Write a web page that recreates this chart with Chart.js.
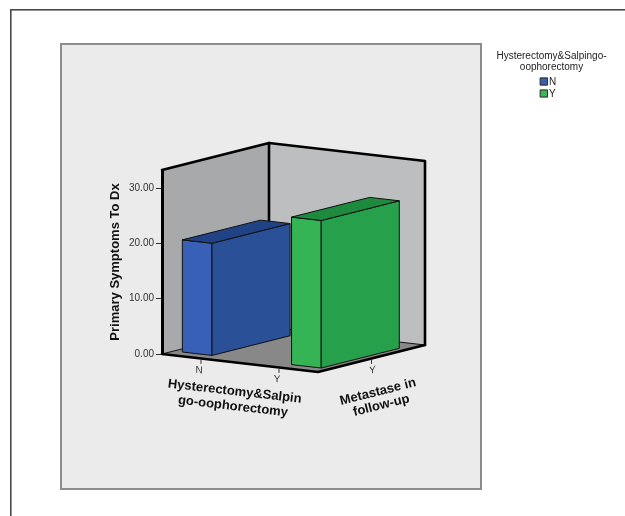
<!DOCTYPE html>
<html>
<head>
<meta charset="utf-8">
<script src="https://cdn.jsdelivr.net/npm/chart.js@4.4.1/dist/chart.umd.min.js"></script>
<style>
html,body{margin:0;padding:0;background:#fff;}
#wrap{width:625px;height:516px;}
</style>
</head>
<body>
<div id="wrap"><canvas id="c" width="625" height="516"></canvas></div>
<script>
// ---------------- data ----------------
const hysterectomyCategories = ['N', 'Y'];
const metastaseCategories = ['Y'];
const seriesLabels = ['N', 'Y'];
const primarySymptomsN = [20.3, null];
const primarySymptomsY = [null, 26.7];
const yTickValues = [0, 10, 20, 30];
const yAxisMax = 33.3;
const yTitle = 'Primary Symptoms To Dx';
const xTitleLines = ['Hysterectomy&Salpin', 'go-oophorectomy'];
const zTitleLines = ['Metastase in', 'follow-up'];
const legendTitleLines = ['Hysterectomy&Salpingo-', 'oophorectomy'];

// ---------------- style ----------------
const FONT = "'Liberation Sans', Arial, sans-serif";
const DEPTH = { dx: 107, dy: -27 };
const FRONT_DY = 18;
const BAR_SPREAD = 1.40;
const DEPTH_FILL = 0.73, DEPTH_SHIFT = -0.025;
const BLUE = { front: '#3760b6', side: '#2a5098', top: '#1f4384', legend: '#3a5fb0' };
const GREEN = { front: '#34b454', side: '#27a04b', top: '#1e8a3e', legend: '#3cb85b' };
const WALL_LEFT = '#a7a9aa', WALL_BACK = '#bcbebf', FLOOR = '#888888';

function proj(chart, a, d, v) {
  const ca = chart.chartArea, ys = chart.scales.y;
  return [ca.left + a * (ca.right - ca.left) + d * DEPTH.dx,
          ys.getPixelForValue(v) + a * FRONT_DY + d * DEPTH.dy];
}
function poly(ctx, pts, fill, stroke, lw) {
  ctx.beginPath();
  pts.forEach((p, i) => i ? ctx.lineTo(p[0], p[1]) : ctx.moveTo(p[0], p[1]));
  ctx.closePath();
  if (fill) { ctx.fillStyle = fill; ctx.fill(); }
  if (stroke) { ctx.strokeStyle = stroke; ctx.lineWidth = lw || 1; ctx.lineJoin = 'round'; ctx.stroke(); }
}
function pline(ctx, pts, color, lw) {
  ctx.beginPath();
  pts.forEach((p, i) => i ? ctx.lineTo(p[0], p[1]) : ctx.moveTo(p[0], p[1]));
  ctx.strokeStyle = color; ctx.lineWidth = lw; ctx.lineJoin = 'round'; ctx.lineCap = 'round';
  ctx.stroke();
}
function textAlong(ctx, lines, x, y, angle, offsets, font, color, shear) {
  ctx.save();
  ctx.translate(x, y);
  if (shear) ctx.transform(Math.cos(angle), Math.sin(angle), 0, 1, 0, 0);
  else ctx.rotate(angle);
  ctx.font = font; ctx.fillStyle = color;
  ctx.textAlign = 'center'; ctx.textBaseline = 'middle';
  lines.forEach((t, i) => ctx.fillText(t, offsets[i][0], offsets[i][1]));
  ctx.restore();
}

const threeD = {
  id: 'threeD',
  beforeDraw(chart) {
    const ctx = chart.ctx;
    const ca = chart.chartArea;
    const W = ca.right - ca.left;
    const P = (a, d, v) => proj(chart, a, d, v);
    const vmax = chart.scales.y.max;
    ctx.save();
    ctx.fillStyle = '#ffffff'; ctx.fillRect(0, 0, chart.width, chart.height);
    // outer frame
    ctx.fillStyle = '#4a4a4a';
    ctx.fillRect(10, 9, 1.6, chart.height - 9);
    ctx.fillRect(10, 9, chart.width - 10, 1.6);
    // panel
    ctx.fillStyle = '#ebebeb'; ctx.fillRect(60, 43, 422, 447);
    ctx.strokeStyle = '#8c8c8c'; ctx.lineWidth = 2; ctx.strokeRect(61, 44, 420, 445);

    // walls & floor
    poly(ctx, [P(0,0,0), P(0,1,0), P(0,1,vmax), P(0,0,vmax)], WALL_LEFT);
    poly(ctx, [P(0,1,0), P(1,1,0), P(1,1,vmax), P(0,1,vmax)], WALL_BACK);
    poly(ctx, [P(0,0,0), P(1,0,0), P(1,1,0), P(0,1,0)], FLOOR);
    pline(ctx, [P(0,0,0), P(0,1,0), P(1,1,0)], '#111', 1);
    pline(ctx, [P(0,0,vmax), P(0,1,vmax), P(1,1,vmax), P(1,1,0)], '#000', 2.6);
    pline(ctx, [P(0,1,vmax), P(0,1,0)], '#000', 2.6);
    pline(ctx, [P(0,0,0), P(1,0,0), P(1,1,0)], '#000', 2.6);

    // front (hysterectomy) axis ticks and labels
    const xs = chart.scales.x, zs = chart.scales.depth;
    const fAng = Math.atan2(FRONT_DY, W);
    const dAng = Math.atan2(DEPTH.dy, DEPTH.dx);
    xs.getLabels().forEach((lab, i) => {
      const a = (xs.getPixelForValue(i) - ca.left) / W;
      const p = P(a, 0, 0);
      pline(ctx, [[p[0], p[1] + 1], [p[0], p[1] + 5]], '#333', 1);
      textAlong(ctx, [lab], p[0] - 2, p[1] + 12, fAng, [[0, 0]], '10px ' + FONT, '#333', true);
    });
    zs.getLabels().forEach((lab, i) => {
      const d = (zs.getPixelForValue(i) - ca.left) / W;
      const p = P(1, d, 0);
      pline(ctx, [[p[0], p[1] + 1], [p[0], p[1] + 5]], '#333', 1);
      textAlong(ctx, [lab], p[0] + 1, p[1] + 12, dAng, [[0, 0]], '10px ' + FONT, '#333', true);
    });
    // axis titles
    const fm = P(0.5, 0, 0);
    textAlong(ctx, xTitleLines, fm[0], fm[1], fAng, [[-2, 29], [-2, 44]], 'bold 13px ' + FONT, '#111', false);
    const dm = P(1, 0.5, 0);
    textAlong(ctx, zTitleLines, dm[0], dm[1], dAng, [[-2, 34], [-2, 48]], 'bold 13px ' + FONT, '#111', false);

    // legend
    ctx.font = '10px ' + FONT; ctx.fillStyle = '#222';
    ctx.textAlign = 'center'; ctx.textBaseline = 'middle';
    legendTitleLines.forEach((t, i) => ctx.fillText(t, 551.5, 56 + i * 11));
    chart.data.datasets.forEach((ds, i) => {
      const y = 77.5 + i * 12;
      ctx.fillStyle = ds.faceColors.legend; ctx.fillRect(540, y, 8, 8);
      ctx.strokeStyle = '#333'; ctx.lineWidth = 1; ctx.strokeRect(540.5, y + 0.5, 7, 7);
      ctx.fillStyle = '#222'; ctx.textAlign = 'left';
      ctx.fillText(ds.label, 549, y + 4.5);
    });
    ctx.restore();
  },
  beforeDatasetsDraw(chart) {
    const ctx = chart.ctx;
    const ca = chart.chartArea;
    const W = ca.right - ca.left;
    const P = (a, d, v) => proj(chart, a, d, v);
    const zs = chart.scales.depth;
    const dC = (zs.getPixelForValue(0) - ca.left) / W + DEPTH_SHIFT;
    const d0 = dC - DEPTH_FILL / 2, d1 = dC + DEPTH_FILL / 2;
    ctx.save();
    chart.data.datasets.forEach((ds, i) => {
      const meta = chart.getDatasetMeta(i);
      meta.data.forEach((el, j) => {
        const v = ds.data[j];
        if (v === null || v === undefined) return;
        const aT = (el.x - ca.left) / W;
        const aC = 0.5 + (aT - 0.5) * BAR_SPREAD;
        const hw = el.width / 2 / W;
        const a0 = aC - hw, a1 = aC + hw;
        const c = ds.faceColors;
        poly(ctx, [P(a0,d0,0), P(a1,d0,0), P(a1,d0,v), P(a0,d0,v)], c.front, '#111', 1);
        poly(ctx, [P(a1,d0,0), P(a1,d1,0), P(a1,d1,v), P(a1,d0,v)], c.side, '#111', 1);
        poly(ctx, [P(a0,d0,v), P(a1,d0,v), P(a1,d1,v), P(a0,d1,v)], c.top, '#111', 1);
      });
    });
    ctx.restore();
    return false;
  }
};

new Chart(document.getElementById('c'), {
  type: 'bar',
  data: {
    labels: hysterectomyCategories,
    datasets: [
      { label: seriesLabels[0], data: primarySymptomsN, backgroundColor: BLUE.front, faceColors: BLUE,
        grouped: false, barPercentage: 0.38, categoryPercentage: 1 },
      { label: seriesLabels[1], data: primarySymptomsY, backgroundColor: GREEN.front, faceColors: GREEN,
        grouped: false, barPercentage: 0.38, categoryPercentage: 1 }
    ]
  },
  options: {
    responsive: false,
    animation: false,
    devicePixelRatio: 1,
    layout: { padding: { left: 100, top: 170, right: 307, bottom: 162 } },
    plugins: { legend: { display: false }, tooltip: { enabled: false } },
    scales: {
      x: { type: 'category', display: false, offset: true },
      depth: { type: 'category', axis: 'x', position: 'bottom', labels: metastaseCategories, display: false, offset: true },
      y: {
        type: 'linear', min: 0, max: yAxisMax,
        afterFit: s => { s.width = 62; },
        afterBuildTicks: s => { s.ticks = yTickValues.map(v => ({ value: v })); },
        ticks: { callback: v => Number(v).toFixed(2), font: { size: 10, family: FONT }, color: '#333', padding: 2 },
        grid: { drawOnChartArea: false, drawTicks: true, tickLength: 6, color: '#333', lineWidth: 1 },
        border: { display: true, color: '#000', width: 3 },
        title: { display: true, text: yTitle, font: { size: 13, weight: 'bold', family: FONT }, color: '#111', padding: { top: 8, bottom: 0 } }
      }
    }
  },
  plugins: [threeD]
});
</script>
</body>
</html>
